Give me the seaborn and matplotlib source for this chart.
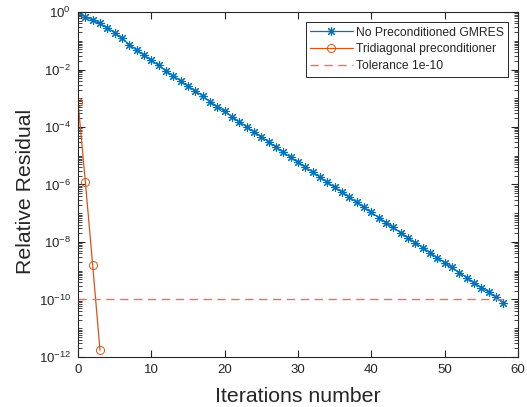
import numpy as np
import pandas as pd
import matplotlib
matplotlib.use("Agg")
import matplotlib.pyplot as plt
import matplotlib.ticker as mticker
import seaborn as sns

# Relative residual history of unpreconditioned GMRES
gmres_iter = list(range(59))
gmres_res = [
    1.0, 6.9e-1, 5.2e-1, 4.0e-1, 2.8e-1, 1.9e-1, 1.2e-1, 7.4e-2, 4.7e-2, 3.2e-2,
    2.1e-2, 1.4e-2, 8.9e-3, 5.9e-3, 4.0e-3, 2.6e-3, 1.8e-3, 1.2e-3, 7.6e-4, 5.1e-4,
    3.5e-4, 2.3e-4, 1.5e-4, 1.0e-4, 6.8e-5, 4.6e-5, 3.0e-5, 2.0e-5, 1.3e-5, 8.9e-6,
    5.9e-6, 4.0e-6, 2.7e-6, 1.8e-6, 1.2e-6, 7.9e-7, 5.5e-7, 3.6e-7, 2.4e-7, 1.6e-7,
    1.07e-7, 7.1e-8, 4.7e-8, 3.2e-8, 2.1e-8, 1.4e-8, 9.5e-9, 6.3e-9, 4.3e-9, 2.8e-9,
    1.9e-9, 1.3e-9, 8.5e-10, 5.8e-10, 3.8e-10, 2.6e-10, 1.8e-10, 1.2e-10, 7.6e-11,
]

# Residual history with the tridiagonal preconditioner
tri_iter = [0, 1, 2, 3]
tri_res = [7.6e-4, 1.26e-6, 1.6e-9, 1.7e-12]

# Stopping tolerance
tol_iter = [0, 58]
tol_res = [1e-10, 1e-10]

x_ticks = [0, 10, 20, 30, 40, 50, 60]
y_ticks = [1e-12, 1e-10, 1e-8, 1e-6, 1e-4, 1e-2, 1e0]

sns.set_style("ticks")
plt.rcParams["font.family"] = ["Liberation Sans", "DejaVu Sans"]
plt.rcParams["mathtext.fontset"] = "custom"
plt.rcParams["mathtext.rm"] = "Liberation Sans"
plt.rcParams["mathtext.it"] = "Liberation Sans"

blue = "#0072BD"
orange = "#D95319"
tol_col = "#F26B6B"
ink = "#262626"

fig = plt.figure(figsize=(5.27, 4.07), dpi=100)
ax = fig.add_axes([0.148, 0.1229, 0.835, 0.8476])

df_g = pd.DataFrame({"it": gmres_iter, "res": gmres_res})
df_t = pd.DataFrame({"it": tri_iter, "res": tri_res})
df_tol = pd.DataFrame({"it": tol_iter, "res": tol_res})

sns.lineplot(data=df_g, x="it", y="res", ax=ax, color=blue, lw=0.9,
             marker=(8, 2, 0), markersize=6.5, markeredgewidth=0.8,
             markeredgecolor=blue, label="No Preconditioned GMRES")
sns.lineplot(data=df_t, x="it", y="res", ax=ax, color=orange, lw=0.9,
             marker="o", markersize=5.8, markerfacecolor="none",
             markeredgewidth=0.7, markeredgecolor=orange,
             label="Tridiagonal preconditioner")
sns.lineplot(data=df_tol, x="it", y="res", ax=ax, color=tol_col, lw=1.0,
             linestyle=(0, (6, 4)), label="Tolerance 1e-10")

ax.set_yscale("log")
ax.set_xlim(0, 60)
ax.set_ylim(1e-12, 1)
ax.set_xticks(x_ticks)
ax.set_yticks(y_ticks)
ax.yaxis.set_major_formatter(mticker.FuncFormatter(
    lambda v, p: r"$\mathregular{10^{%d}}$" % int(round(np.log10(v)))))
ax.yaxis.set_minor_locator(mticker.LogLocator(base=10, subs=np.arange(1, 10), numticks=200))
ax.yaxis.set_minor_formatter(mticker.NullFormatter())

ax.tick_params(axis="both", which="both", direction="in", top=True, right=True,
               labelsize=9.5, colors=ink)
ax.tick_params(axis="both", which="major", length=5, width=0.8, pad=5)
ax.tick_params(axis="y", which="minor", length=3, width=0.6)
for s in ax.spines.values():
    s.set_color(ink)
    s.set_linewidth(0.8)

ax.set_xlabel("Iterations number", fontsize=15.3, color=ink, labelpad=8)
ax.set_ylabel("Relative Residual", fontsize=15.3, color=ink)
ax.yaxis.set_label_coords(-0.097, 0.48)

leg = ax.legend(loc="upper right", fontsize=8.7, frameon=True, fancybox=False,
                framealpha=1, edgecolor=ink, handlelength=3.5,
                handletextpad=0.25, borderpad=0.4, borderaxespad=0.8,
                labelspacing=0.4)
leg.get_frame().set_linewidth(0.7)

fig.savefig("out.png", dpi=100)
